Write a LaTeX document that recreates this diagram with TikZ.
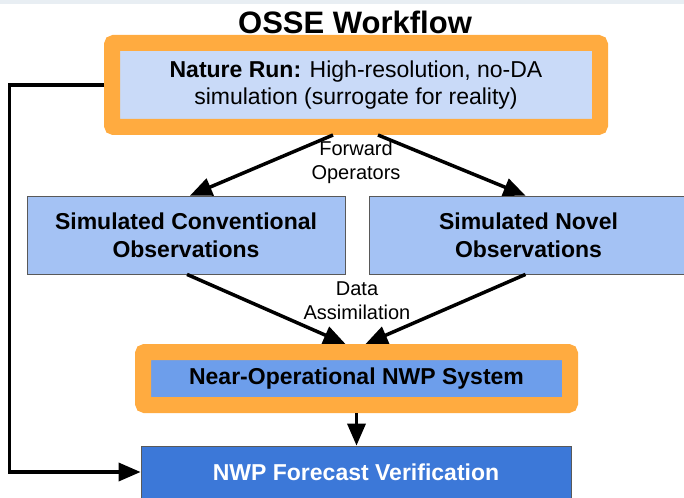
\documentclass[tikz,border=0pt]{standalone}
\usepackage{fontspec}
\setmainfont{Liberation Sans}
\usetikzlibrary{arrows.meta}
\definecolor{framorange}{HTML}{FFAB40}
\definecolor{naturefill}{HTML}{C9DAF8}
\definecolor{obsfill}{HTML}{A4C2F4}
\definecolor{nwpfill}{HTML}{6D9EEB}
\definecolor{verifill}{HTML}{3C78D8}
\definecolor{topband}{HTML}{E8EEF3}

\begin{document}
\begin{tikzpicture}[x=1pt, y=-1pt,
    framed/.style={fill=#1, draw=framorange, line width=16pt, rounded corners=2pt, align=center, font=\fontsize{23}{27.6}\selectfont},
    obsbox/.style={fill=obsfill, draw=black!65, line width=0.8pt, align=center, font=\fontsize{23}{27.6}\selectfont\bfseries, minimum width=318pt, minimum height=78pt},
    flow/.style={line width=3.5pt, -{Triangle[length=22pt, width=18pt]}},
    lbl/.style={align=center, font=\fontsize{20}{24}\selectfont}]
    \useasboundingbox (0,0) rectangle (684,497);
    \fill[topband] (0,0) rectangle (684,4);
    \node[font=\fontsize{31}{36}\selectfont\bfseries] (title) at (355,22) {OSSE Workflow};
    \node[framed=naturefill, minimum width=488pt, minimum height=84pt] (nature) at (356,85) {\textbf{Nature Run:} High-resolution, no-DA\\simulation (surrogate for reality)};
    \node[obsbox] (conv) at (186,235) {Simulated Conventional\\Observations};
    \node[obsbox] (novel) at (528.5,235) {Simulated Novel\\Observations};
    \node[framed=nwpfill, font=\fontsize{23}{27.6}\selectfont\bfseries, minimum width=427pt, minimum height=53pt] (nwp) at (356.5,378.5) {Near-Operational NWP System};
    \node[fill=verifill, draw=black!65, line width=0.8pt, text=white, font=\fontsize{23}{27.6}\selectfont\bfseries, minimum width=430pt, minimum height=52pt] (verif) at (356,472) {NWP Forecast Verification};
    \node[lbl] (fwd) at (356,162) {Forward\\Operators};
    \node[lbl] (da) at (357,301) {Data\\Assimilation};
    \coordinate (fb) at (9.5,0);
    \draw[flow] ([xshift=-23pt]nature.south) -- ([xshift=4pt]conv.north);
    \draw[flow] ([xshift=22pt]nature.south) -- ([xshift=-3pt]novel.north);
    \draw[flow] ([xshift=1pt]conv.south) -- ([xshift=-11pt]nwp.north);
    \draw[flow] ([xshift=-3pt]novel.south) -- ([xshift=9pt]nwp.north);
    \draw[flow] (nwp.south) -- (nwp.south |- verif.north);
    \draw[flow] (nature.west) -- (nature.west -| fb) |- (verif.west);
\end{tikzpicture}
\end{document}
